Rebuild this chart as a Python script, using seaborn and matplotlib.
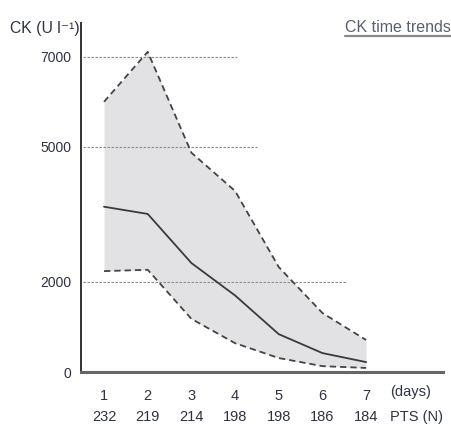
import matplotlib
matplotlib.use("Agg")
import matplotlib.pyplot as plt
import seaborn as sns
import pandas as pd
from matplotlib.lines import Line2D

# CK (creatine kinase) values over the first week, U/l
days = [1, 2, 3, 4, 5, 6, 7]
ck_upper = [6000, 7110, 4870, 4020, 2330, 1310, 710]
ck_mean = [3670, 3510, 2420, 1700, 840, 420, 220]
ck_lower = [2240, 2270, 1180, 640, 310, 130, 90]
patients_n = [232, 219, 214, 198, 198, 186, 184]
y_ticks = [0, 2000, 5000, 7000]
grid_levels = [7000, 5000, 2000]
grid_ends = [4.05, 4.5, 6.55]

df = pd.DataFrame({"day": days, "upper": ck_upper, "mean": ck_mean, "lower": ck_lower})

sns.set_style("white")
plt.rcParams["font.family"] = ["Liberation Sans Narrow", "Liberation Sans", "DejaVu Sans"]

fig = plt.figure(figsize=(4.52, 4.24), dpi=100)
ax = fig.add_axes([81 / 452, 1 - 372 / 424, (443 - 81) / 452, (372 - 23) / 424])

# shaded band between lower and upper bounds
ax.fill_between(df["day"], df["lower"], df["upper"], color="#e2e2e4", lw=0, zorder=1)

# reference lines at labelled levels
for lvl, xend in zip(grid_levels, grid_ends):
    ax.hlines(lvl, 0.52, xend, colors="#8a8a8a", linestyles=(0, (2.2, 1.4)), lw=0.8, zorder=2)

sns.lineplot(data=df, x="day", y="upper", ax=ax, color="#444444", lw=1.3,
             linestyle=(0, (3.5, 2.2)), zorder=3)
sns.lineplot(data=df, x="day", y="lower", ax=ax, color="#444444", lw=1.3,
             linestyle=(0, (3.5, 2.2)), zorder=3)
sns.lineplot(data=df, x="day", y="mean", ax=ax, color="#3a3a3a", lw=1.3, zorder=4)

ax.set_xlim(0.473, 8.76)
ax.set_ylim(0, 7750)
ax.set_xlabel("")
ax.set_ylabel("")

ax.set_yticks(y_ticks)
ax.set_yticklabels([str(t) for t in y_ticks], fontsize=10, color="#2f3340")
ax.set_xticks(days)
ax.set_xticklabels([str(d) for d in days], fontsize=10.5, color="#2f3340")
ax.tick_params(axis="both", length=0)
ax.tick_params(axis="x", pad=12)
ax.tick_params(axis="y", pad=7)

for s in ["top", "right"]:
    ax.spines[s].set_visible(False)
ax.spines["left"].set_color("#333333")
ax.spines["left"].set_linewidth(1.4)
ax.spines["bottom"].set_color("#666666")
ax.spines["bottom"].set_linewidth(2.2)

# number of patients per day
trans = ax.get_xaxis_transform()
for d, n in zip(days, patients_n):
    ax.text(d, -0.13, str(n), transform=trans, ha="center", va="center",
            fontsize=10.5, color="#2f3340")
ax.text(7.55, -0.057, "(days)", transform=trans, ha="left", va="center",
        fontsize=10.5, color="#2f3340")
ax.text(7.55, -0.13, "PTS (N)", transform=trans, ha="left", va="center",
        fontsize=10.5, color="#2f3340")

fig.text(10 / 452, 1 - 28 / 424, "CK (U l\u207b\u00b9)", ha="left", va="center",
         fontsize=11.3, color="#2f3340")

title = fig.text(451 / 452, 1 - 27 / 424, "CK time trends", ha="right", va="center",
                 fontsize=11.5, color="#5a6070")
fig.canvas.draw()
bb = title.get_window_extent().transformed(fig.transFigure.inverted())
fig.add_artist(Line2D([bb.x0, bb.x1], [bb.y0 - 0.004, bb.y0 - 0.004],
                      transform=fig.transFigure, color="#8a8a8a", lw=1.6))

fig.savefig("out.png", dpi=100)
